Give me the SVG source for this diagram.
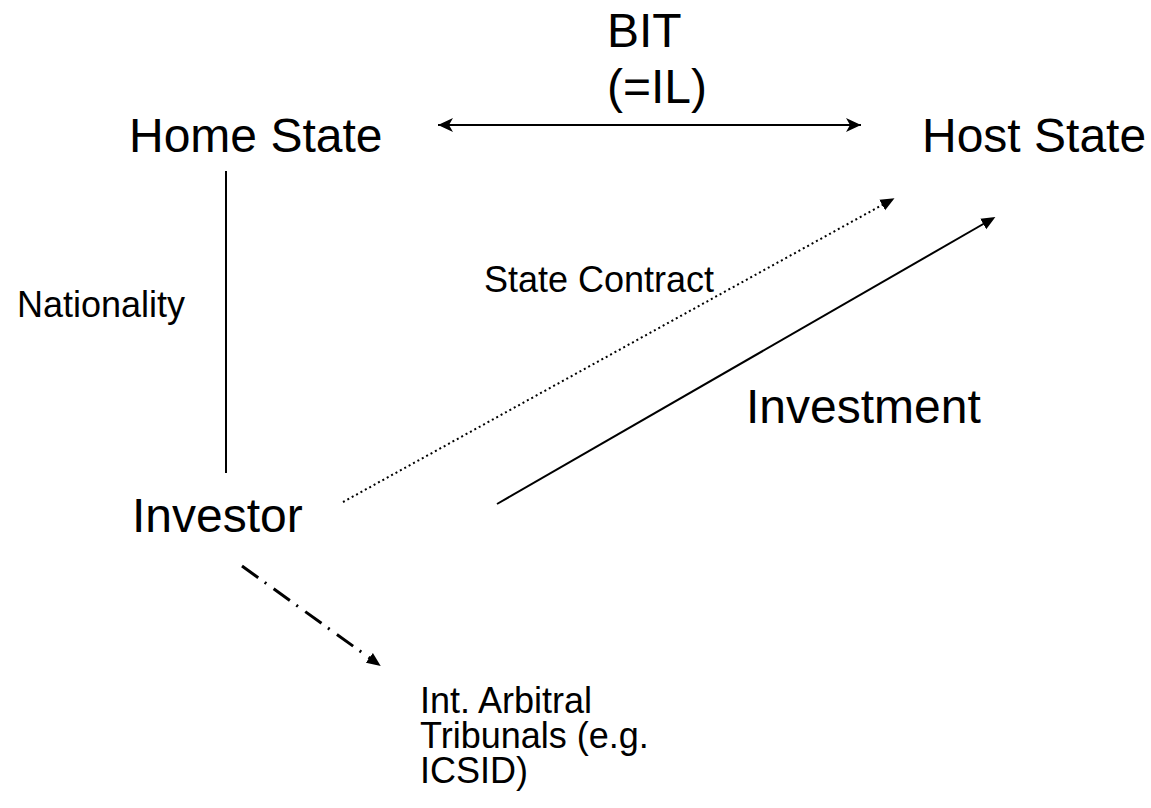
<svg xmlns="http://www.w3.org/2000/svg" width="1151" height="808" viewBox="0 0 1151 808">
<style>
text{font-family:"Liberation Sans",Arial,sans-serif;fill:#000}
.big{font-size:48px}
.small{font-size:36px}
.ln{stroke:#000;fill:none}
</style>
<defs>
<marker id="stealth" viewBox="0 0 16 16" refX="15" refY="8" markerWidth="16" markerHeight="16" markerUnits="userSpaceOnUse" orient="auto-start-reverse">
<path d="M15 8 L0 1 L4 8 L0 15 Z" fill="#000"/>
</marker>
<marker id="tri" viewBox="0 0 14 14" refX="2" refY="7" markerWidth="14" markerHeight="14" markerUnits="userSpaceOnUse" orient="auto">
<path d="M0 1 L14 7 L0 13 Z" fill="#000"/>
</marker>
</defs>
<rect width="1151" height="808" fill="#fff"/>
<g id="connectors">
<line class="ln" x1="438" y1="125" x2="861" y2="125" stroke-width="2" marker-start="url(#stealth)" marker-end="url(#stealth)"/>
<line class="ln" x1="226" y1="171" x2="226" y2="473" stroke-width="2"/>
<line class="ln" x1="343" y1="502" x2="884" y2="204" stroke-width="2" stroke-dasharray="2 3" marker-end="url(#tri)"/>
<line class="ln" x1="497" y1="504" x2="985" y2="223" stroke-width="2" marker-end="url(#tri)"/>
<line class="ln" x1="242" y1="566" x2="371" y2="659" stroke-width="3" stroke-dasharray="20 8 2 9" marker-end="url(#tri)"/>
</g>
<g id="bit-label"><text class="big" x="607" y="47">BIT</text><text class="big" x="607" y="103">(=IL)</text></g>
<g id="home-state"><text class="big" x="129" y="152">Home State</text></g>
<g id="host-state"><text class="big" x="922" y="152">Host State</text></g>
<g id="nationality-label"><text class="small" x="17" y="317">Nationality</text></g>
<g id="state-contract-label"><text class="small" x="484" y="292">State Contract</text></g>
<g id="investment-label"><text class="big" x="746" y="423">Investment</text></g>
<g id="investor"><text class="big" x="132" y="532">Investor</text></g>
<g id="tribunals"><text class="small" x="420" y="713">Int. Arbitral</text><text class="small" x="420" y="748">Tribunals (e.g.</text><text class="small" x="420" y="783">ICSID)</text></g>
</svg>
